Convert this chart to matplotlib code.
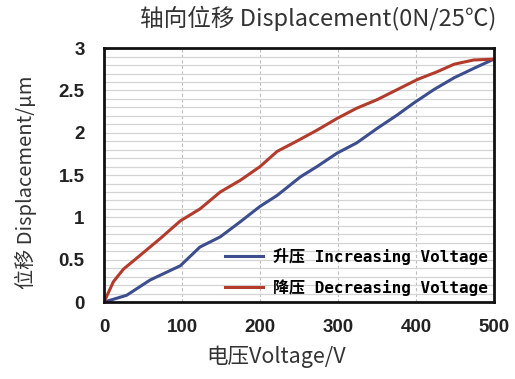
import matplotlib.pyplot as plt
from matplotlib.ticker import MultipleLocator

# 数据 (读自图片)
volt_up = [0, 29, 59, 98, 123, 149, 175, 200, 222, 252, 273, 299, 324, 350, 376, 397, 423, 449, 474, 500]
disp_up = [0, 0.08, 0.26, 0.43, 0.65, 0.77, 0.95, 1.13, 1.26, 1.48, 1.60, 1.76, 1.88, 2.05, 2.21, 2.35, 2.51, 2.65, 2.76, 2.87]

volt_down = [0, 12, 25, 46, 72, 98, 123, 149, 175, 200, 222, 247, 273, 299, 324, 350, 376, 402, 427, 449, 474, 500]
disp_down = [0, 0.24, 0.39, 0.55, 0.75, 0.96, 1.10, 1.30, 1.44, 1.60, 1.78, 1.90, 2.03, 2.17, 2.29, 2.39, 2.51, 2.63, 2.72, 2.81, 2.86, 2.87]

x_ticks = [0, 100, 200, 300, 400, 500]
y_ticks = [0, 0.5, 1, 1.5, 2, 2.5, 3]
y_tick_labels = ['0', '0.5', '1', '1.5', '2', '2.5', '3']

plt.rcParams['font.family'] = ['Liberation Sans', 'Noto Sans CJK SC']
cjk = ['Noto Sans CJK SC', 'DejaVu Sans']

fig = plt.figure(figsize=(5.15, 3.79), dpi=100)
ax = fig.add_axes([0.202, 0.203, 0.757, 0.670])

ax.plot(volt_up, disp_up, color='#3d4e8e', lw=2.2, label='升压 Increasing Voltage')
ax.plot(volt_down, disp_down, color='#b23b2c', lw=2.2, label='降压 Decreasing Voltage')

ax.set_xlim(0, 500)
ax.set_ylim(0, 3)
ax.set_xticks(x_ticks)
ax.set_yticks(y_ticks)
ax.set_yticklabels(y_tick_labels)
ax.yaxis.set_minor_locator(MultipleLocator(0.1))

ax.grid(axis='y', which='both', color='#d4d4d4', lw=0.9, ls='-')
ax.grid(axis='x', which='major', color='#bcbcbc', lw=0.8, ls=(0, (3, 2)))
ax.set_axisbelow(True)

ax.tick_params(which='both', length=0)
ax.tick_params(axis='x', pad=12, labelsize=13.5)
ax.tick_params(axis='y', pad=14, labelsize=13.5)
for lab in ax.get_xticklabels() + ax.get_yticklabels():
    lab.set_fontweight('bold')
    lab.set_color('#222222')

for s in ax.spines.values():
    s.set_linewidth(2)
    s.set_color('#111111')

leg = ax.legend(loc='lower right', frameon=False, handlelength=2.4, labelspacing=0.9,
                handletextpad=0.6,
                prop={'family': ['DejaVu Sans Mono', 'Noto Sans CJK SC'], 'weight': 'bold', 'size': 11.5},
                borderaxespad=0.0)

fig.text(0.618, 0.952, '轴向位移 Displacement(0N/25℃)', ha='center', va='center', fontsize=17,
         color='#333333', family=cjk)
fig.text(0.537, 0.058, '电压Voltage/V', ha='center', va='center', fontsize=15.5,
         color='#333333', family=cjk)
fig.text(0.050, 0.52, '位移 Displacement/μm', ha='center', va='center', rotation=90, fontsize=14.5,
         color='#333333', family=cjk)

plt.savefig('out.png', dpi=100)
